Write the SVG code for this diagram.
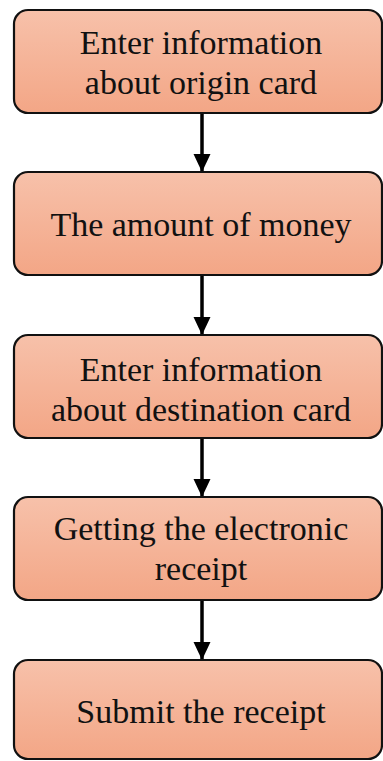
<svg xmlns="http://www.w3.org/2000/svg" width="383" height="761" viewBox="0 0 383 761">
<defs>
<linearGradient id="g" x1="0" y1="0" x2="0" y2="1">
<stop offset="0" stop-color="#F7C1AA"/>
<stop offset="1" stop-color="#F3A686"/>
</linearGradient>
<marker id="ah" markerUnits="userSpaceOnUse" markerWidth="17" markerHeight="18" refX="18" refY="8.5" orient="auto">
<path d="M0,0 L18,8.5 L0,17 Z" fill="#000"/>
</marker>
<style>
.box{fill:url(#g);stroke:#111;stroke-width:2.2}
.t{font-family:"Liberation Serif","Times New Roman",serif;font-size:34px;fill:#111;text-anchor:middle}
.c{stroke:#000;stroke-width:3.5;fill:none;marker-end:url(#ah)}
</style>
</defs>
<rect width="383" height="761" fill="#fff"/>
<g id="connectors">
<line class="c" x1="202" y1="113" x2="202" y2="172"/>
<line class="c" x1="202" y1="275" x2="202" y2="335"/>
<line class="c" x1="202" y1="438" x2="202" y2="497"/>
<line class="c" x1="202" y1="600" x2="202" y2="660"/>
</g>
<g id="n1">
<rect class="box" x="14" y="10" width="368" height="103" rx="14"/>
<text class="t" x="201" y="54">Enter information</text>
<text class="t" x="201" y="94">about origin card</text>
</g>
<g id="n2">
<rect class="box" x="14" y="172" width="368" height="103" rx="14"/>
<text class="t" x="201" y="236">The amount of money</text>
</g>
<g id="n3">
<rect class="box" x="14" y="335" width="368" height="103" rx="14"/>
<text class="t" x="201" y="381">Enter information</text>
<text class="t" x="201" y="421">about destination card</text>
</g>
<g id="n4">
<rect class="box" x="14" y="497" width="368" height="103" rx="14"/>
<text class="t" x="201" y="540">Getting the electronic</text>
<text class="t" x="201" y="580">receipt</text>
</g>
<g id="n5">
<rect class="box" x="14" y="660" width="368" height="99" rx="14"/>
<text class="t" x="201" y="723">Submit the receipt</text>
</g>
</svg>
